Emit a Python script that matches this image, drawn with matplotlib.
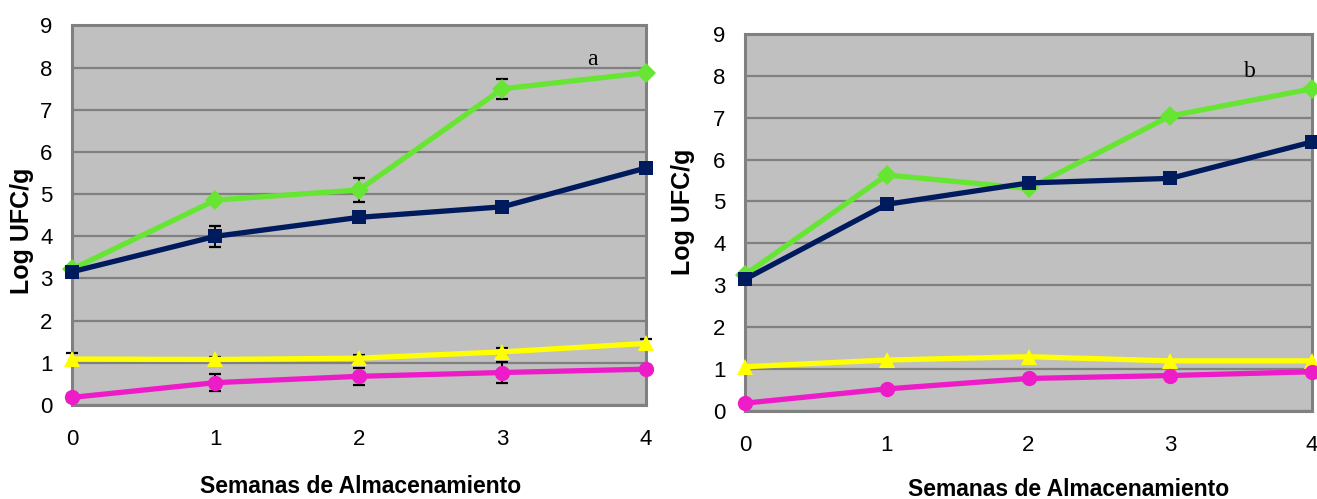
import matplotlib
matplotlib.use("Agg")
import matplotlib.pyplot as plt

# Storage weeks
weeks = [0, 1, 2, 3, 4]
y_ticks = [0, 1, 2, 3, 4, 5, 6, 7, 8, 9]

# Panel a (Log UFC/g)
a_green = [3.22, 4.86, 5.10, 7.50, 7.88]
a_navy = [3.16, 4.00, 4.45, 4.70, 5.62]
a_yellow = [1.09, 1.08, 1.11, 1.26, 1.46]
a_pink = [0.18, 0.53, 0.68, 0.77, 0.85]

a_green_err = [0.05, 0.05, 0.28, 0.24, 0.05]
a_navy_err = [0.05, 0.25, 0.08, 0.08, 0.08]
a_yellow_err = [0.15, 0.05, 0.08, 0.10, 0.10]
a_pink_err = [0.08, 0.21, 0.20, 0.25, 0.05]

# Panel b (Log UFC/g)
b_green = [3.25, 5.63, 5.31, 7.04, 7.69]
b_navy = [3.14, 4.93, 5.44, 5.55, 6.42]
b_yellow = [1.05, 1.21, 1.29, 1.19, 1.19]
b_pink = [0.18, 0.52, 0.77, 0.84, 0.93]

panel_letters = ["a", "b"]
x_title = "Semanas de Almacenamiento"
y_title = "Log UFC/g"

GREEN = "#66E633"
NAVY = "#001A5E"
YELLOW = "#FFFF00"
PINK = "#EE1BC8"
BG = "#C0C0C0"
GRID = "#808080"

plt.rcParams["font.family"] = ["Liberation Sans", "DejaVu Sans"]

fig = plt.figure(figsize=(13.17, 4.99), dpi=100)
ax_a = fig.add_axes([0.05467, 0.1884, 0.4358, 0.7605])
ax_b = fig.add_axes([0.5657, 0.177, 0.4305, 0.755])


def draw_series(ax, ys, err, color, marker, ms):
    if err is not None:
        ax.errorbar(weeks, ys, yerr=err, fmt="none", ecolor="black",
                    elinewidth=1.4, capsize=4.5, capthick=1.6,
                    zorder=2, clip_on=False)
    ax.plot(weeks, ys, color=color, lw=3.8, marker=marker, ms=ms,
            markeredgewidth=0, zorder=3, clip_on=False)


def style(ax, letter, lx, ly, ylab_pos, xlab_pos):
    ax.set_facecolor(BG)
    ax.set_xlim(0, 4)
    ax.set_ylim(0, 9)
    ax.set_xticks(weeks)
    ax.set_yticks(y_ticks)
    ax.yaxis.grid(True, color=GRID, lw=1.6, zorder=0)
    ax.set_axisbelow(True)
    for s in ax.spines.values():
        s.set_color(GRID)
        s.set_linewidth(2.2)
    ax.tick_params(axis="both", length=0, labelsize=16)
    ax.tick_params(axis="x", pad=17.5)
    ax.tick_params(axis="y", pad=14)
    ax.set_ylabel(y_title, fontsize=18, fontweight="bold", va="center")
    ax.yaxis.set_label_coords(*ylab_pos)
    ax.set_xlabel(x_title, fontsize=16.5, fontweight="bold", va="center")
    ax.xaxis.set_label_coords(*xlab_pos)
    ax.text(lx, ly, letter, fontsize=17, family=["Liberation Serif", "DejaVu Serif"],
            ha="center", va="center", zorder=5)


draw_series(ax_a, a_green, a_green_err, GREEN, "D", 10)
draw_series(ax_a, a_navy, a_navy_err, NAVY, "s", 10)
draw_series(ax_a, a_yellow, a_yellow_err, YELLOW, "^", 11)
draw_series(ax_a, a_pink, a_pink_err, PINK, "o", 11)
style(ax_a, panel_letters[0], 3.63, 8.2, (-0.087, 0.458), (0.502, -0.216))

draw_series(ax_b, b_green, None, GREEN, "D", 10)
draw_series(ax_b, b_navy, None, NAVY, "s", 10)
draw_series(ax_b, b_yellow, None, YELLOW, "^", 11)
draw_series(ax_b, b_pink, None, PINK, "o", 11)
style(ax_b, panel_letters[1], 3.56, 8.1, (-0.109, 0.527), (0.57, -0.208))

fig.savefig("out.png", dpi=100, facecolor="white")
